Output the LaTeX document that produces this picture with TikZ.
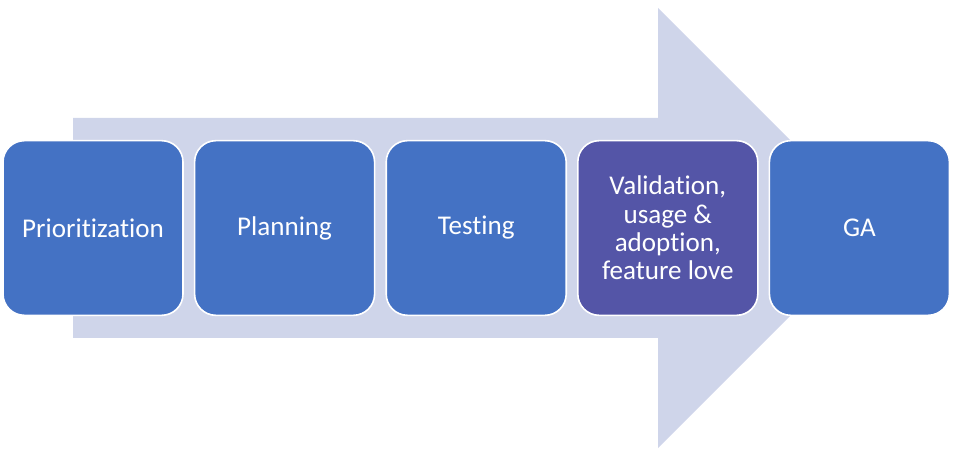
\documentclass[tikz,border=0pt]{standalone}
\usepackage{fontspec}
\setmainfont[Ligatures=NoCommon]{Carlito}
\usetikzlibrary{positioning}

\definecolor{stepblue}{HTML}{4472C4}
\definecolor{steppurple}{HTML}{5455A7}
\definecolor{arrowfill}{HTML}{CFD5EA}

\begin{document}
\begin{tikzpicture}[x=0.75pt,y=-0.75pt,
		stepbox/.style={rectangle,rounded corners=16pt,fill=stepblue,draw=white,line width=1.2pt,outer sep=0pt,
			minimum width=135pt,minimum height=131pt,text=white,align=center,
			font=\fontsize{20.3pt}{21.2pt}\selectfont}]
		\useasboundingbox (0,0) rectangle (953,459);
		% big arrow behind the steps
		\fill[arrowfill] (73,118) -- (658,118) -- (658,8) -- (878,228) -- (658,448) -- (658,338) -- (73,338) -- cycle;

		\node[stepbox]											(prio)	at (93,228)	{Prioritization};
		\node[stepbox,node distance=8.7pt,right=of prio]		(plan)				{Planning};
		\node[stepbox,node distance=8.7pt,right=of plan]		(test)				{Testing};
		\node[stepbox,node distance=8.7pt,right=of test,fill=steppurple]	(valid)	{Validation,\\usage \&\\adoption,\\feature love};
		\node[stepbox,node distance=8.7pt,right=of valid]		(ga)				{GA};
	\end{tikzpicture}
\end{document}
